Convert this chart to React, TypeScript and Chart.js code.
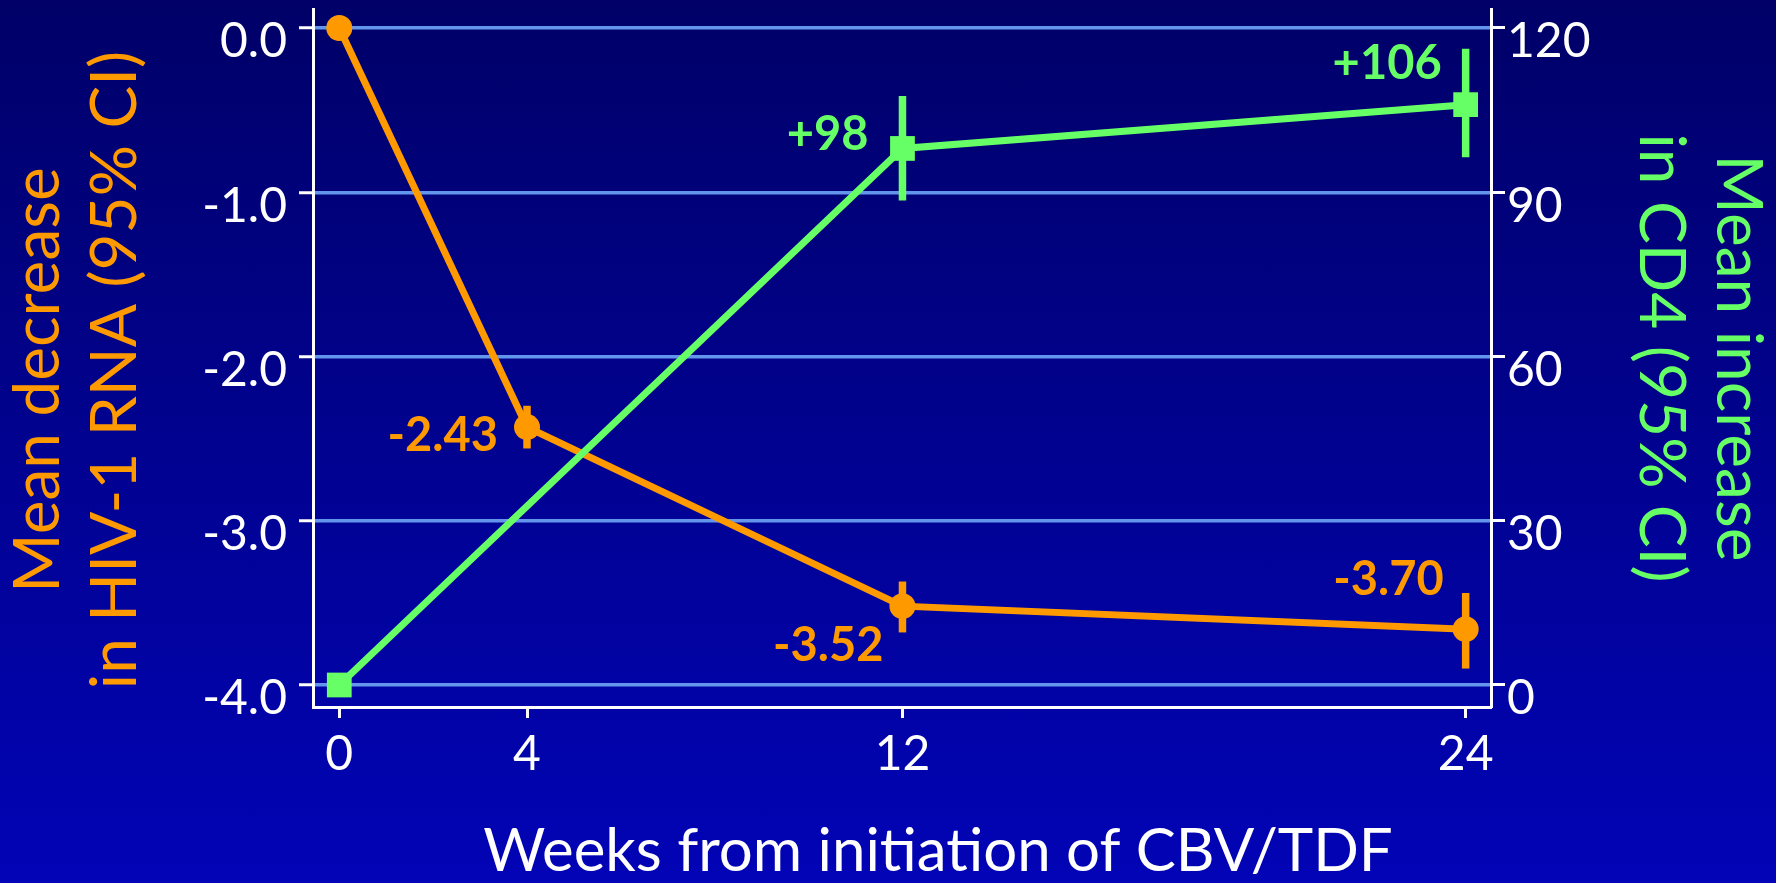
import React, { useEffect, useRef } from "react";
import { Chart, registerables } from "chart.js";

Chart.register(...registerables);

// ---- data ----
const weeks = [0, 4, 12, 24];
const rnaMean = [0, -2.43, -3.52, -3.66];
const rnaLow = [null, -2.56, -3.68, -3.9];
const rnaHigh = [null, -2.3, -3.37, -3.44];
const rnaText = ["", "-2.43", "-3.52", "-3.70"];

const cd4Weeks = [0, 12, 24];
const cd4Mean = [0, 98, 106];
const cd4Low = [null, 88.5, 96.4];
const cd4High = [null, 107.6, 116.2];
const cd4Text = ["", "+98", "+106"];

const weekTicks = [0, 4, 12, 24];
const rnaTicks = [-4, -3, -2, -1, 0];
const cd4Ticks = [0, 30, 60, 90, 120];

const xTitle = "Weeks from initiation of CBV/TDF";
const leftTitle = ["Mean decrease", "in HIV-1 RNA (95% CI)"];
const rightTitle = ["Mean increase", "in CD4 (95% CI)"];

// ---- styles ----
const ORANGE = "#FF9900";
const GREEN = "#66FF66";
const GRID = "#6495ED";
const FONT = "Lato";
// label placement relative to its point: [right-edge dx, centre dy] in px
const rnaLabelShift = [null, [-29, 9], [-19, 40], [-22, -49]];
const cd4LabelShift = [null, [-34, -14], [-24, -41]];

const noPad = (s: any) => {
  s.paddingTop = 0;
  s.paddingBottom = 0;
  s.paddingLeft = 0;
  s.paddingRight = 0;
};

const extrasPlugin = {
  id: "extras",
  afterDatasetsDraw(chart: any) {
    const ctx = chart.ctx;
    const xs = chart.scales.x;
    const yl = chart.scales.y;
    const yr = chart.scales.y1;
    ctx.save();
    const bars = [
      { x: weeks, lo: rnaLow, hi: rnaHigh, s: yl, c: ORANGE },
      { x: cd4Weeks, lo: cd4Low, hi: cd4High, s: yr, c: GREEN },
    ];
    ctx.lineWidth = 7.5;
    ctx.lineCap = "butt";
    for (const b of bars) {
      ctx.strokeStyle = b.c;
      b.x.forEach((w, i) => {
        if (b.lo[i] == null || b.hi[i] == null) return;
        const px = xs.getPixelForValue(w);
        ctx.beginPath();
        ctx.moveTo(px, b.s.getPixelForValue(b.lo[i]));
        ctx.lineTo(px, b.s.getPixelForValue(b.hi[i]));
        ctx.stroke();
      });
    }
    ctx.font = `bold 47px ${FONT}`;
    ctx.textAlign = "right";
    ctx.textBaseline = "middle";
    const labels = [
      { x: weeks, y: rnaMean, t: rnaText, sh: rnaLabelShift, s: yl, c: ORANGE },
      { x: cd4Weeks, y: cd4Mean, t: cd4Text, sh: cd4LabelShift, s: yr, c: GREEN },
    ];
    for (const l of labels) {
      ctx.fillStyle = l.c;
      l.x.forEach((w, i) => {
        const sh = l.sh[i];
        if (!sh || !l.t[i]) return;
        const px = xs.getPixelForValue(w);
        const py = l.s.getPixelForValue(l.y[i]);
        ctx.fillText(l.t[i], px + sh[0], py + sh[1]);
      });
    }
    ctx.restore();
  },
  afterDraw(chart: any) {
    const ctx = chart.ctx;
    const area = chart.chartArea;
    ctx.save();
    // x-axis title, centred a little right of the plot centre as in the original slide
    ctx.font = `60px ${FONT}`;
    ctx.fillStyle = "#FFFFFF";
    ctx.textAlign = "center";
    ctx.textBaseline = "middle";
    ctx.fillText(xTitle, (area.left + area.right) / 2 + 36, chart.height - 31);
    // left axis title (rotated), sitting slightly below the plot centre
    ctx.font = `64px ${FONT}`;
    ctx.fillStyle = ORANGE;
    const midY = (area.top + area.bottom) / 2;
    const lines = [
      { t: leftTitle[0], x: 38, y: midY + 22 },
      { t: leftTitle[1], x: 115, y: midY + 12 },
    ];
    for (const ln of lines) {
      ctx.save();
      ctx.translate(ln.x, ln.y);
      ctx.rotate(-Math.PI / 2);
      ctx.fillText(ln.t, 0, 0);
      ctx.restore();
    }
    ctx.restore();
  },
};

export default function App() {
  const ref = useRef<HTMLCanvasElement>(null);

  useEffect(() => {
    if (!ref.current) return;
    Chart.defaults.font.family = FONT;
    const chart = new Chart(ref.current, {
      type: "line",
      data: {
        datasets: [
          {
            label: "CD4",
            data: cd4Weeks.map((w, i) => ({ x: w, y: cd4Mean[i] })),
            yAxisID: "y1",
            borderColor: GREEN,
            backgroundColor: GREEN,
            borderWidth: 7,
            pointStyle: "rect",
            pointRadius: 17.5,
            pointBorderWidth: 0,
            pointBackgroundColor: GREEN,
            tension: 0,
            fill: false,
          },
          {
            label: "HIV-1 RNA",
            data: weeks.map((w, i) => ({ x: w, y: rnaMean[i] })),
            yAxisID: "y",
            borderColor: ORANGE,
            backgroundColor: ORANGE,
            borderWidth: 7,
            pointStyle: "circle",
            pointRadius: 13,
            pointBorderWidth: 0,
            pointBackgroundColor: ORANGE,
            tension: 0,
            fill: false,
          },
        ],
      },
      options: {
        responsive: false,
        animation: false,
        devicePixelRatio: 1,
        layout: { autoPadding: false, padding: { top: 9, left: 0, right: 0, bottom: 0 } },
        plugins: {
          legend: { display: false },
          tooltip: { enabled: false },
        },
        events: [],
        scales: {
          x: {
            type: "linear",
            position: "bottom",
            min: -0.56,
            max: 24.54,
            afterBuildTicks: (s: any) => {
              s.ticks = weekTicks.map((v) => ({ value: v }));
            },
            afterFit: (s: any) => {
              s.height = 176;
              noPad(s);
            },
            ticks: {
              color: "#FFFFFF",
              font: { family: FONT, size: 48 },
              padding: 8,
              callback: (v: any) => String(v),
            },
            grid: {
              display: true,
              drawOnChartArea: false,
              drawTicks: true,
              tickLength: 11,
              tickColor: "#FFFFFF",
              tickWidth: 3,
            },
            border: { display: true, color: "#FFFFFF", width: 3 },
            title: { display: false, text: xTitle },
          },
          y: {
            type: "linear",
            position: "left",
            min: -4.134,
            max: 0.1157,
            afterBuildTicks: (s: any) => {
              s.ticks = rnaTicks.map((v) => ({ value: v }));
            },
            afterFit: (s: any) => {
              s.width = 313;
              noPad(s);
            },
            ticks: {
              color: "#FFFFFF",
              font: { family: FONT, size: 48 },
              padding: 12,
              labelOffset: 14,
              callback: (v: any) => Number(v).toFixed(1),
            },
            grid: {
              color: GRID,
              lineWidth: 3.5,
              drawTicks: true,
              tickLength: 14,
              tickColor: "#FFFFFF",
              tickWidth: 3,
            },
            border: { display: true, color: "#FFFFFF", width: 3 },
            title: { display: false, text: leftTitle },
          },
          y1: {
            type: "linear",
            position: "right",
            min: -4.02,
            max: 123.47,
            afterBuildTicks: (s: any) => {
              s.ticks = cd4Ticks.map((v) => ({ value: v }));
            },
            afterFit: (s: any) => {
              s.width = 285;
              noPad(s);
            },
            ticks: {
              color: "#FFFFFF",
              font: { family: FONT, size: 48 },
              padding: 2,
              labelOffset: 14,
              callback: (v: any) => String(v),
            },
            grid: {
              drawOnChartArea: false,
              drawTicks: true,
              tickLength: 14,
              tickColor: "#FFFFFF",
              tickWidth: 3,
            },
            border: { display: true, color: "#FFFFFF", width: 3 },
            title: {
              display: true,
              text: rightTitle,
              color: GREEN,
              font: { family: FONT, size: 64, lineHeight: 1.2 },
              padding: { top: 0, bottom: 0 },
            },
          },
        },
      },
      plugins: [extrasPlugin],
    } as any);
    return () => chart.destroy();
  }, []);

  return (
    <div
      style={{
        position: "absolute",
        left: 0,
        top: 0,
        width: 1776,
        height: 883,
        background: "linear-gradient(to bottom, #000068, #0204B6)",
      }}
    >
      <canvas
        ref={ref}
        width={1776}
        height={883}
        style={{ display: "block", width: 1776, height: 883 }}
      />
    </div>
  );
}
